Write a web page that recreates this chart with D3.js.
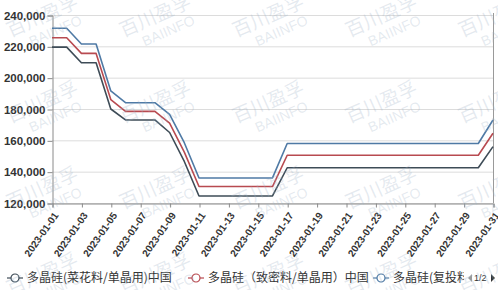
<!DOCTYPE html>
<html>
<head>
<meta charset="utf-8">
<script src="https://cdn.jsdelivr.net/npm/d3@7/dist/d3.min.js"></script>
<style>
  html, body { margin: 0; padding: 0; background: #fff; }
  svg { display: block; }
</style>
</head>
<body>
<svg id="chart" width="498" height="290"></svg>
<script>
// --- data -------------------------------------------------------------
const dates = [
  "2023-01-01","2023-01-02","2023-01-03","2023-01-04","2023-01-05","2023-01-06",
  "2023-01-07","2023-01-08","2023-01-09","2023-01-10","2023-01-11","2023-01-12",
  "2023-01-13","2023-01-14","2023-01-15","2023-01-16","2023-01-17","2023-01-18",
  "2023-01-19","2023-01-20","2023-01-21","2023-01-22","2023-01-23","2023-01-24",
  "2023-01-25","2023-01-26","2023-01-27","2023-01-28","2023-01-29","2023-01-30",
  "2023-01-31"
];

const caihua = [
  219500, 219500, 209500, 209500, 180000, 173000, 173000, 173000, 165000, 146500,
  124500, 124500, 124500, 124500, 124500, 124500, 142500, 142500, 142500, 142500,
  142500, 142500, 142500, 142500, 142500, 142500, 142500, 142500, 142500, 142500,
  156000
];
const zhimi = [
  225500, 225500, 215500, 215500, 186000, 178500, 178500, 178500, 171000, 152500,
  130500, 130500, 130500, 130500, 130500, 130500, 150500, 150500, 150500, 150500,
  150500, 150500, 150500, 150500, 150500, 150500, 150500, 150500, 150500, 150500,
  164500
];
const futou = [
  231500, 231500, 221500, 221500, 191500, 184000, 184000, 184000, 176500, 158500,
  136000, 136000, 136000, 136000, 136000, 136000, 158000, 158000, 158000, 158000,
  158000, 158000, 158000, 158000, 158000, 158000, 158000, 158000, 158000, 158000,
  173000
];

const seriesNames = [
  "多晶硅(菜花料/单晶用)中国",
  "多晶硅（致密料/单晶用）中国",
  "多晶硅(复投料/单晶用)中国"
];
const seriesColors = ["#3e4c57", "#b84a50", "#4f7aa5"];
const yTicks = [120000, 140000, 160000, 180000, 200000, 220000, 240000];
const watermark = ["百川盈孚", "BAIINFO"];

// --- layout -----------------------------------------------------------
const svg = d3.select("#chart");
const parse = d3.timeParse("%Y-%m-%d");
const fmtDate = d3.timeFormat("%Y-%m-%d");
const dayList = dates.map(parse);

const x = d3.scaleTime()
  .domain([dayList[0], dayList[dayList.length - 1]])
  .range([52, 493]);
const y = d3.scaleLinear()
  .domain([120000, 240000])
  .range([203, 15]);

// grid
svg.append("g").attr("class", "grid")
  .selectAll("line")
  .data(yTicks)
  .enter().append("line")
  .attr("x1", x.range()[0]).attr("x2", x.range()[1])
  .attr("y1", d => y(d) + 0.5).attr("y2", d => y(d) + 0.5)
  .attr("stroke", "#dcdcdc").attr("stroke-width", 1);

// right edge
svg.append("line")
  .attr("x1", x.range()[1] + 0.5).attr("x2", x.range()[1] + 0.5)
  .attr("y1", y(240000) - 2).attr("y2", y(120000))
  .attr("stroke", "#9a9a9a");

// y axis
const yAxis = svg.append("g")
  .attr("transform", `translate(${x.range()[0] + 0.5},0.5)`)
  .call(d3.axisLeft(y).tickValues(yTicks).tickSize(5).tickPadding(2)
    .tickFormat(d3.format(",")));
yAxis.select(".domain").attr("stroke", "#8a8a8a");
yAxis.selectAll(".tick line").attr("stroke", "#8a8a8a");
yAxis.selectAll("text")
  .attr("fill", "#333")
  .style("font-family", "'Liberation Sans', Arial, sans-serif")
  .style("font-size", "11.5px")
  .style("font-weight", "bold");

// x axis
const xTickDays = dayList.filter((d, i) => i % 2 === 0);
const xAxis = svg.append("g")
  .attr("transform", `translate(0.5,${y(120000) + 0.5})`)
  .call(d3.axisBottom(x).tickValues(xTickDays).tickSize(4)
    .tickFormat(fmtDate));
xAxis.select(".domain").attr("stroke", "#8a8a8a");
xAxis.selectAll(".tick line").attr("stroke", "#8a8a8a");
xAxis.selectAll("text")
  .attr("fill", "#333")
  .style("font-family", "'Liberation Sans', Arial, sans-serif")
  .style("font-size", "10px")
  .style("font-weight", "bold")
  .attr("text-anchor", "end")
  .attr("dy", "0.35em")
  .attr("y", 0)
  .attr("transform", "translate(3,10) rotate(-55)");

// lines
const allSeries = [caihua, zhimi, futou];
const line = d3.line()
  .x((d, i) => x(dayList[i]))
  .y(d => y(d));

svg.append("g").attr("class", "lines")
  .selectAll("path")
  .data(allSeries)
  .enter().append("path")
  .attr("d", line)
  .attr("fill", "none")
  .attr("stroke", (d, i) => seriesColors[i])
  .attr("stroke-width", 1.6)
  .attr("stroke-linejoin", "round");

// legend
const legendX = [7, 188, 373];
const clip = svg.append("clipPath").attr("id", "legend-clip")
  .append("rect").attr("x", 0).attr("y", 260).attr("width", 464).attr("height", 30);
const legend = svg.append("g").attr("clip-path", "url(#legend-clip)");
const items = legend.selectAll("g")
  .data(seriesNames)
  .enter().append("g")
  .attr("transform", (d, i) => `translate(${legendX[i]},278)`);
items.append("line")
  .attr("x1", 0).attr("x2", 16).attr("y1", 0).attr("y2", 0)
  .attr("stroke", (d, i) => seriesColors[i]).attr("stroke-width", 1.2);
items.append("circle")
  .attr("cx", 8).attr("cy", 0).attr("r", 4)
  .attr("fill", "#fff")
  .attr("stroke", (d, i) => seriesColors[i]).attr("stroke-width", 1.2);
items.append("text")
  .attr("x", 20).attr("y", 0).attr("dy", "0.36em")
  .attr("fill", "#333")
  .style("font-family", "'Noto Sans CJK SC', sans-serif")
  .style("font-size", "12px")
  .text(d => d);

// pager
const pager = svg.append("g").attr("transform", "translate(468,278)");
pager.append("path").attr("d", "M0,0 L4,-4 L4,4 Z").attr("fill", "#999");
pager.append("text").attr("x", 6).attr("y", 0).attr("dy", "0.35em")
  .attr("fill", "#333")
  .style("font-family", "'Liberation Sans', Arial, sans-serif")
  .style("font-size", "9px").text("1/2");
pager.append("path").attr("d", "M23,-4 L27,0 L23,4 Z").attr("fill", "#333");

// watermark
const wm = svg.append("g").attr("pointer-events", "none");
for (let r = 0; r < 4; r++) {
  for (let c = 0; c < 5; c++) {
    const cx = 45 + c * 113, cy = 22 + r * 86;
    const g = wm.append("g")
      .attr("transform", `translate(${cx},${cy}) rotate(-24)`)
      .attr("fill", "#9fb4c8").attr("fill-opacity", 0.28)
      .attr("text-anchor", "middle");
    g.append("text").attr("y", 0)
      .style("font-family", "'Noto Sans CJK SC', sans-serif")
      .style("font-size", "19px").text(watermark[0]);
    g.append("text").attr("x", 6).attr("y", 17)
      .style("font-family", "'Liberation Sans', Arial, sans-serif")
      .style("font-size", "14px").text(watermark[1]);
  }
}
</script>
</body>
</html>
